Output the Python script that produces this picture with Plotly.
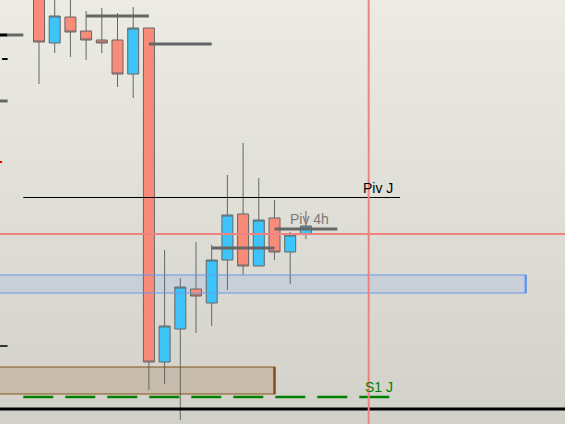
import plotly.graph_objects as go

# ---- data (price units, index positions of hourly candles) ----
idx = list(range(18))
opens  = [440, 381, 407, 393, 384, 384, 350, 396, 62, 95, 135, 121, 164, 210, 158, 206, 172, 190]
highs  = [452, 432, 428, 413, 416, 411, 417, 396, 174, 146, 182, 179, 249, 281, 246, 224, 192, 213]
lows   = [340, 371, 367, 364, 371, 337, 326, 34, 40, 4, 91, 98, 134, 149, 158, 164, 140, 185]
closes = [382, 408, 392, 384, 381, 350, 396, 62, 98, 137, 128, 164, 209, 158, 204, 172, 189, 198]

# 4h pivot segments: (start idx, end idx, level)
piv4h_start = [3, 7, 11, 15]
piv4h_end = [7, 11, 15, 19]
piv4h_level = [408, 380, 176, 195]

piv_j = 226.5
s1_j = 27
red_level = 190
red_time = 21
zone_blue = (131, 149)
zone_blue_end = 31
zone_brown = (30, 57)
zone_brown_end = 15
bottom_level = 15

X0, X1 = -39 / 15.7, (565 - 39) / 15.7
Y0, Y1 = 0, 424
XS = -4  # zones start off-screen on the left

fig = go.Figure()

# background gradient
fig.add_trace(go.Heatmap(x=[X0 - 1, X1 + 1], y=[Y0 - 5, Y1 + 5], z=[[0, 0], [1, 1]],
                         colorscale=[[0, '#d2d1c9'], [1, '#ecebe4']], zsmooth='best',
                         showscale=False, hoverinfo='skip'))

# zone fills (horizontal bars, drawn beneath the candles)
for (lo, hi), end, col in [(zone_blue, zone_blue_end, '#c9cfd9'), (zone_brown, zone_brown_end, '#c7bcab')]:
    fig.add_trace(go.Bar(y=[(lo + hi) / 2], x=[end - XS], base=[XS], width=[hi - lo], orientation='h',
                         marker=dict(color=col, line=dict(width=0)), hoverinfo='skip', showlegend=False))

fig.add_trace(go.Candlestick(
    x=idx, open=opens, high=highs, low=lows, close=closes,
    increasing=dict(fillcolor='#3cc4fb', line=dict(color='#666666', width=1)),
    decreasing=dict(fillcolor='#f98c78', line=dict(color='#666666', width=1)),
    whiskerwidth=0, hoverinfo='skip', showlegend=False))

shapes = []
def hline(x0, x1, y, color, width, dash=None):
    ln = dict(color=color, width=width)
    if dash:
        ln['dash'] = dash
    shapes.append(dict(type='line', x0=x0, x1=x1, y0=y, y1=y, xref='x', yref='y', line=ln, layer='above'))

# zone borders
shapes.append(dict(type='rect', x0=XS, x1=zone_blue_end, y0=zone_blue[0], y1=zone_blue[1],
                   line=dict(color='#6a98ea', width=1.2), fillcolor='rgba(0,0,0,0)', layer='above'))
shapes.append(dict(type='line', x0=zone_blue_end, x1=zone_blue_end, y0=zone_blue[0], y1=zone_blue[1],
                   line=dict(color='#6a98ea', width=2.5), layer='above'))
shapes.append(dict(type='rect', x0=XS, x1=zone_brown_end, y0=zone_brown[0], y1=zone_brown[1],
                   line=dict(color='#84501a', width=1.2), fillcolor='rgba(0,0,0,0)', layer='above'))
shapes.append(dict(type='line', x0=zone_brown_end, x1=zone_brown_end, y0=zone_brown[0], y1=zone_brown[1],
                   line=dict(color='#84501a', width=2.5), layer='above'))

for a, b, lv in zip(piv4h_start, piv4h_end, piv4h_level):
    hline(a, b, lv, '#666666', 3)

hline(-1, 23, piv_j, '#000000', 1)
hline(-1, 23, s1_j, '#008000', 2.5, dash='30px,12px')
hline(X0 - 1, X1 + 1, bottom_level, '#000000', 3)
hline(X0 - 1, X1 + 1, red_level, '#f28282', 2)
shapes.append(dict(type='line', x0=red_time, x1=red_time, y0=Y0 - 5, y1=Y1 + 5,
                   line=dict(color='#f28282', width=2), layer='above'))

# truncated level tags at the left edge
hline(X0 - 1, -2, 389, '#000000', 3)
hline(-2, -1, 389, '#666666', 3)
hline(-2.35, -2, 365, '#000000', 2)
hline(X0 - 1, -2, 323, '#666666', 3)
hline(X0 - 1, -2.35, 262, '#ff0000', 2)
hline(X0 - 1, -2, 78, '#000000', 1.5)

fig.update_layout(shapes=shapes)

font = 'Liberation Sans, Arial, sans-serif'
fig.add_annotation(x=22.65, y=piv_j, text='Piv J', showarrow=False, xanchor='right', yanchor='bottom',
                   font=dict(family=font, size=14, color='#000000'))
fig.add_annotation(x=22.65, y=s1_j, text='S1 J', showarrow=False, xanchor='right', yanchor='bottom',
                   font=dict(family=font, size=14, color='#008000'))
fig.add_annotation(x=15.88, y=piv4h_level[3], text='Piv 4h', showarrow=False, xanchor='left', yanchor='bottom',
                   font=dict(family=font, size=14, color='#7a7a7a'))

fig.update_layout(
    width=565, height=424, margin=dict(l=0, r=0, t=0, b=0),
    paper_bgcolor='#e0dfd7', plot_bgcolor='#e0dfd7',
    boxgap=0.3, boxgroupgap=0, barmode='overlay',
    xaxis=dict(range=[X0, X1], visible=False, rangeslider=dict(visible=False), fixedrange=True),
    yaxis=dict(range=[Y0, Y1], visible=False, fixedrange=True),
    showlegend=False, hovermode=False,
)

fig.write_html('out.html', config={'displayModeBar': False},
               post_script="document.body.style.margin='0';document.body.style.overflow='hidden';")
